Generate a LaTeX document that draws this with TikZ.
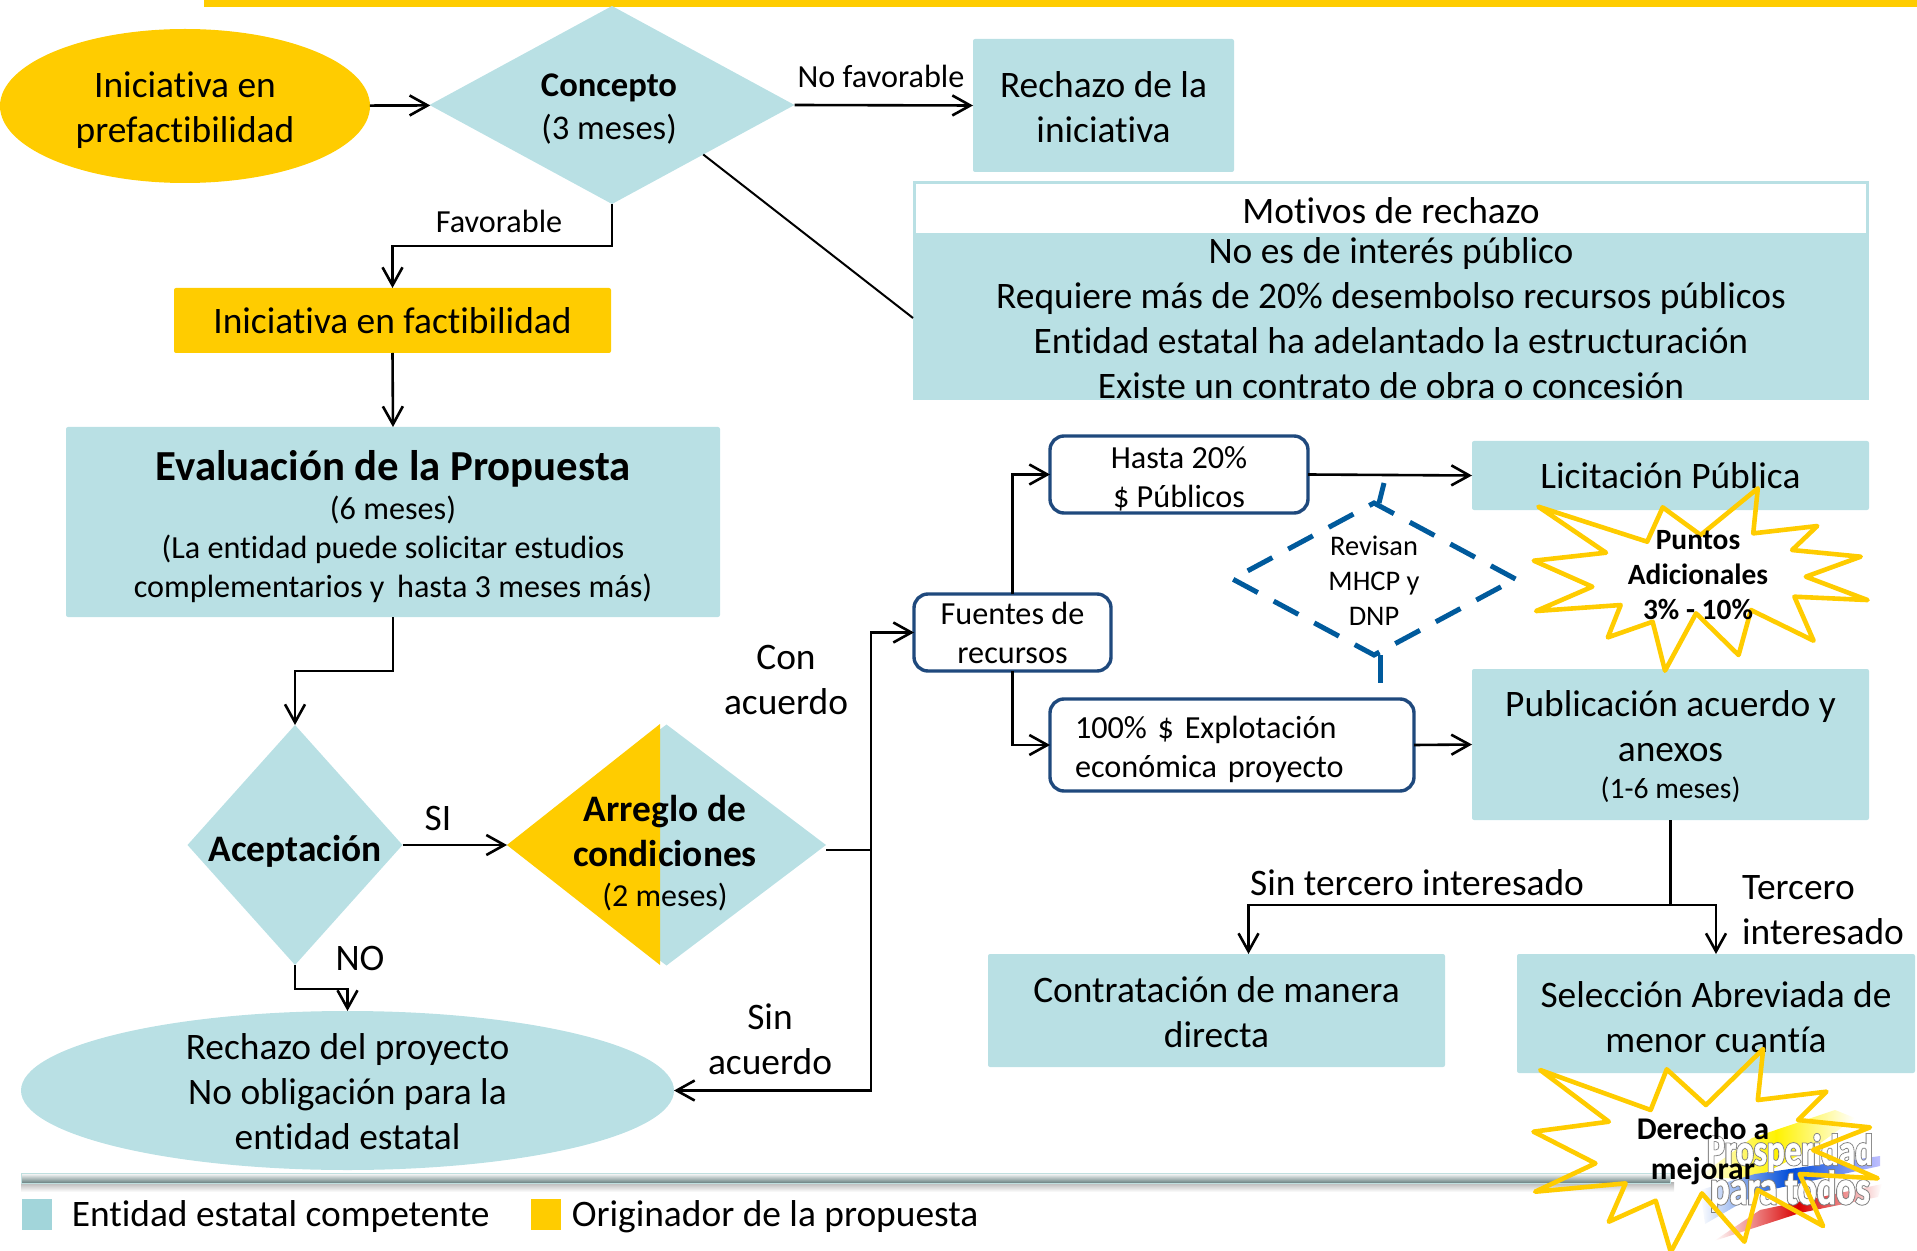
\documentclass[tikz,border=0pt]{standalone}
\usepackage{fontspec}
\setmainfont[Ligatures=NoCommon]{Carlito}
\newfontfamily\logofont[FakeStretch=0.75,FakeBold=1]{Carlito}
\newfontfamily\logofontb[FakeStretch=0.75,FakeBold=5]{Carlito}
\usetikzlibrary{shapes, arrows.meta, positioning}
\definecolor{entidad}{HTML}{B9E0E4}
\definecolor{entidadleg}{HTML}{A2D5DA}
\definecolor{originador}{HTML}{FFCC00}
\definecolor{borde}{HTML}{1F497D}
\definecolor{revisa}{HTML}{005A9C}
\newcommand{\fsbig}{\fontsize{18.7}{22.5}\selectfont}
\newcommand{\fsmed}{\fontsize{17.3}{21.5}\selectfont}
\newcommand{\fssmall}{\fontsize{16.1}{19.5}\selectfont}
\newcommand{\fstiny}{\fontsize{14.2}{17.5}\selectfont}
\newcommand{\bajar}[1]{\rule{0pt}{#1}}
\tikzstyle{caja} = [fill=entidad, rectangle, rounded corners=1pt, inner sep=0pt, outer sep=0pt, align=center, font=\fsbig]
\tikzstyle{cajaorig} = [caja, fill=originador]
\tikzstyle{rombo} = [fill=entidad, diamond, inner sep=0pt, outer sep=0pt, align=center]
\tikzstyle{fuente} = [draw=borde, line width=1.7pt, fill=white, rectangle, rounded corners=7pt, inner sep=0pt, outer sep=0pt, align=center, font=\fssmall]
\tikzstyle{elipse} = [ellipse, inner sep=0pt, outer sep=0pt]
\tikzstyle{etiqueta} = [align=center, inner sep=0pt, font=\fsbig]
\tikzstyle{flecha} = [line width=1.3pt, -{Straight Barb[length=9pt,width=10pt,line width=1.3pt]}]
\tikzstyle{linea} = [line width=1.3pt]
\tikzstyle{revision} = [draw=revisa, line width=2.5pt, dash pattern=on 14pt off 9pt]
\tikzstyle{estrella} = [draw=originador, line width=2.3pt, line join=round]
\begin{document}
\begin{tikzpicture}[x=0.5pt,y=-0.5pt]
	\useasboundingbox (0,0) rectangle (1917,1251);
	\fill[originador] (204,0) rectangle (1917,7);
	\shade[left color=white, right color=white, middle color=yellow!90!orange] (1697,1178) -- (1752,1138) -- (1835,1110) -- (1855,1118) -- (1815,1147) -- (1755,1178) -- cycle;
	\shade[left color=white, right color=blue!25, middle color=blue!65!cyan!85!black] (1700,1190) -- (1755,1174) -- (1880,1156) -- (1880,1166) -- (1760,1192) -- (1705,1224) -- cycle;
	\shade[left color=white, right color=white, middle color=red!85!black] (1714,1241) -- (1760,1210) -- (1882,1184) -- (1878,1197) -- (1800,1213) -- cycle;
	\node[inner sep=0pt, text=gray] (logoas) at (1790,1153) {\logofontb\bfseries\fontsize{22}{22}\selectfont Prosperidad};
	\node[inner sep=0pt, text=white] (logoa) at (1790,1153) {\logofont\bfseries\fontsize{22}{22}\selectfont Prosperidad};
	\node[inner sep=0pt, text=gray] (logobs) at (1790,1191) {\logofontb\bfseries\fontsize{24}{24}\selectfont para todos};
	\node[inner sep=0pt, text=white] (logob) at (1790,1191) {\logofont\bfseries\fontsize{24}{24}\selectfont para todos};
	\shade[top color=gray!60, bottom color=white] (21,1182) rectangle (1674,1192);
	\shade[top color=white, bottom color=gray!80!teal, draw=teal!25, line width=0.5pt] (21,1173) rectangle (1670,1183);
	\node[elipse, fill=originador, minimum width=185pt, minimum height=77pt, align=center, font=\fsbig] (ini) at (185,106) {\bajar{17.3pt}Iniciativa en\\prefactibilidad};
	\node[rombo, aspect=1.84, minimum width=182.5pt, minimum height=99pt, font=\fsmed] (con) at (612,105) {\bajar{15pt}\textbf{Concepto}\hspace*{3pt}\\(3 meses)\hspace*{3pt}};
	\node[caja, minimum width=130.5pt, minimum height=66.5pt] (rec) at (1103.5,105.5) {\bajar{15pt}Rechazo de la\\iniciativa};
	\node[caja, fill=white, draw=entidad, line width=1.5pt, rounded corners=0pt, minimum width=476.5pt, minimum height=26pt] (mottitle) at (1391,209) {\bajar{15pt}Motivos de rechazo};
	\node[caja, rounded corners=0pt, minimum width=478pt, minimum height=82pt, below=0.5pt of mottitle] (motbody) {No es de interés público\\Requiere más de 20\% desembolso recursos públicos\\Entidad estatal ha adelantado la estructuración\\Existe un contrato de obra o concesión};
	\node[cajaorig, minimum width=218.5pt, minimum height=32.5pt] (fac) at (392.5,320.5) {Iniciativa en factibilidad};
	\node[caja, minimum width=327pt, minimum height=95pt, font=\fssmall] (eva) at (393,522) {\bajar{20pt}{\fontsize{21.4}{24}\selectfont\bfseries Evaluación de la Propuesta}\\(6 meses)\\(La entidad puede solicitar estudios\\complementarios y\, hasta 3 meses más)};
	\node[rombo, aspect=0.9, minimum width=107.5pt, minimum height=120pt, font=\fsbig\bfseries] (ace) at (295,845) {\bajar{19.5pt}Aceptación};
	\node[rombo, minimum width=159.5pt, minimum height=120.5pt] (arr) at (666.5,845) {};
	\fill[originador] (arr.west) -- (660,724) -- (660,965) -- cycle;
	\node[etiqueta, font=\fsbig] (arrtext) at (665,853) {\textbf{Arreglo de}\\\textbf{condiciones}\\[-2.4pt]{\fontsize{16}{19}\selectfont(2 meses)}};
	\node[elipse, fill=entidad, minimum width=326.5pt, minimum height=79.5pt] (rej) at (347.5,1090.5) {};
	\node[etiqueta, yshift=-0.7pt] (rejtext) at (rej.center) {Rechazo del proyecto\\No obligación para la\\entidad estatal};
	\node[fuente, minimum width=98.5pt, minimum height=38.5pt] (fue) at (1012.5,632.5) {Fuentes de\\recursos};
	\node[fuente, minimum width=129pt, minimum height=38.5pt] (has) at (1179,474.5) {\bajar{15.2pt}Hasta 20\%\\\$ Públicos};
	\node[fuente, align=left, text width=157pt, inner xsep=12.5pt, minimum height=46pt] (ful) at (1232,745) {\bajar{15.2pt}100\% \$ Explotación\\económica proyecto};
	\node[caja, minimum width=198.5pt, minimum height=34.5pt] (lic) at (1670.5,475.5) {Licitación Pública};
	\node[caja, minimum width=198.5pt, minimum height=75.5pt] (pub) at (1670.5,744.5) {\bajar{15pt}Publicación acuerdo y\\anexos\\[-4.3pt]{\fontsize{14.8}{17}\selectfont(1-6 meses)}};
	\node[caja, minimum width=228.5pt, minimum height=56.5pt] (dir) at (1216.5,1010.5) {\bajar{14.2pt}Contratación de manera\\directa};
	\node[caja, minimum width=199pt, minimum height=59.5pt] (sel) at (1716,1013.5) {\bajar{16.7pt}Selección Abreviada de\\menor cuantía};
	\node[diamond, revision, aspect=1.86, inner sep=0pt, outer sep=0pt, minimum width=141.5pt, minimum height=76pt, align=center, font=\fstiny] (rev) at (1374,579) {\bajar{11pt}Revisan\\MHCP y\\DNP};
	\draw[revision] ([xshift=2.5pt]rev.north) -- ++(5,-20);
	\draw[revision] ([xshift=3pt]rev.south) -- ([xshift=3pt]rev.south |- ful.north);
	\begin{scope}[shift={(1200,420)},x=0.2286pt,y=-0.1667pt]
		\draw[estrella] (740,260) -- (978,365) -- (1012,262) -- (1095,345) -- (1220,205) -- (1210,340) -- (1350,318) -- (1295,390) -- (1445,410) -- (1325,470) -- (1460,540) -- (1300,530) -- (1342,662) -- (1205,570) -- (1178,705) -- (1085,580) -- (1017,752) -- (990,605) -- (892,652) -- (920,555) -- (735,573) -- (858,500) -- (730,422) -- (888,398) -- cycle;
	\end{scope}
	\begin{scope}[shift={(1500,1050)},x=0.1674pt,y=-0.1667pt]
		\draw[estrella] (120,60) -- (450,180) -- (498,58) -- (615,165) -- (786,-3) -- (770,150) -- (975,125) -- (890,210) -- (1105,232) -- (935,300) -- (1128,385) -- (895,372) -- (965,528) -- (770,420) -- (730,575) -- (603,430) -- (510,606) -- (465,452) -- (325,515) -- (375,400) -- (105,425) -- (285,340) -- (100,245) -- (325,215) -- cycle;
	\end{scope}
	\node[etiqueta, font=\fontsize{14.7}{17.5}\selectfont\bfseries] (pun) at (1698,575) {Puntos\\Adicionales\\3\% - 10\%};
	\node[etiqueta, font=\fontsize{15.8}{20}\selectfont\bfseries] (der) at (1703,1151) {Derecho a\\mejorar};
	\draw[flecha] (ini) -- (con);
	\draw[flecha] (con.east) -- (rec.west);
	\draw[line width=1pt] (con.south east) -- (motbody.west);
	\draw[flecha] (con.south) -- ++(0,42) -| (fac.north);
	\draw[flecha] (fac.south) -- (eva.north);
	\draw[flecha] (eva.south) -- ++(0,54) -| (ace.north);
	\draw[flecha] (ace.east) -- (arr.west);
	\draw[flecha] (ace.south) -- ++(0,24) -| (rej.north);
	\coordinate (cruce) at (871,850);
	\draw[linea] ([yshift=-2.5pt]arr.east) -- (cruce);
	\draw[flecha] (cruce) |- (fue.west);
	\draw[flecha] (cruce) |- (rej.east);
	\draw[flecha] (fue.north) |- (has.west);
	\draw[flecha] (fue.south) |- (ful.west);
	\draw[flecha] (has.east) -- (lic.west);
	\draw[flecha] (ful.east) -- (pub.west);
	\draw[linea] (pub.south) -- ++(0,85) coordinate (reparto);
	\draw[flecha] (reparto) -| ([xshift=16pt]dir.north);
	\draw[flecha] (reparto) -| (sel.north);
	\node[etiqueta, font=\fssmall] (nofav) at (881,76) {No favorable};
	\node[etiqueta, font=\fssmall] (fav) at (499,221) {Favorable};
	\node[etiqueta] (si) at (438,818) {SI};
	\node[etiqueta] (no) at (360,958) {NO};
	\node[etiqueta] (acu) at (786,680) {Con\\acuerdo};
	\node[etiqueta] (sinacu) at (770,1039) {Sin\\acuerdo};
	\node[etiqueta] (sinter) at (1417,883) {Sin tercero interesado};
	\node[etiqueta, align=left] (ter) at (1823,910) {Tercero\\interesado};
	\node[fill=entidadleg, inner sep=0pt, minimum width=15pt, minimum height=15.5pt] (legent) at (37,1214.5) {};
	\node[etiqueta, right=9.5pt of legent, yshift=-1.2pt] (legenttext) {Entidad estatal competente};
	\node[fill=originador, inner sep=0pt, minimum width=15pt, minimum height=15.5pt] (legori) at (546,1214.5) {};
	\node[etiqueta, right=5pt of legori, yshift=-1.2pt] (legoritext) {Originador de la propuesta};
\end{tikzpicture}
\end{document}
